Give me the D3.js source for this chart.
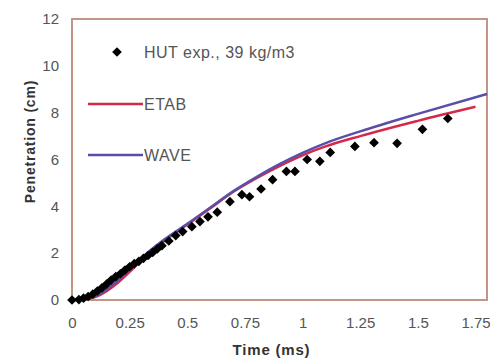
<!DOCTYPE html>
<html>
<head>
<meta charset="utf-8">
<script src="https://cdn.jsdelivr.net/npm/d3@7"></script>
<style>
  body { margin: 0; background: #fff; }
  text { font-family: "Liberation Sans", Arial, sans-serif; }
</style>
</head>
<body>
<div id="chart"></div>
<script>
// Experimental points (time in ms, penetration in cm)
var expTime = [0, 0.03, 0.05, 0.07, 0.09, 0.11, 0.13, 0.15, 0.17, 0.19, 0.21, 0.23, 0.25, 0.27, 0.29,
    0.31, 0.33, 0.35, 0.37, 0.39, 0.42, 0.45, 0.48, 0.52, 0.555, 0.59, 0.63, 0.685, 0.737,
    0.77, 0.82, 0.87, 0.93, 0.967, 1.02, 1.075, 1.12, 1.227, 1.31, 1.41, 1.52, 1.63];
var expPen = [0, 0.02, 0.08, 0.15, 0.25, 0.38, 0.52, 0.68, 0.85, 1.0, 1.12, 1.28, 1.42, 1.55, 1.65,
    1.78, 1.9, 2.03, 2.18, 2.32, 2.52, 2.75, 2.92, 3.13, 3.35, 3.55, 3.75, 4.2, 4.5,
    4.41, 4.74, 5.14, 5.49, 5.49, 6.0, 5.92, 6.3, 6.56, 6.72, 6.69, 7.29, 7.75];

// Simulation curves
var etabTime = [0, 0.05, 0.1, 0.15, 0.2, 0.25, 0.3, 0.4, 0.5, 0.6, 0.7, 0.8, 0.9, 1.0, 1.1, 1.25, 1.5, 1.75];
var etabPen = [0, 0.02, 0.12, 0.38, 0.75, 1.2, 1.68, 2.52, 3.22, 3.92, 4.62, 5.2, 5.72, 6.18, 6.56, 7.0, 7.65, 8.25];
var waveTime = [0, 0.05, 0.1, 0.15, 0.2, 0.25, 0.3, 0.4, 0.5, 0.6, 0.7, 0.8, 0.9, 1.0, 1.1, 1.25, 1.5, 1.8];
var wavePen = [0, 0.03, 0.16, 0.45, 0.85, 1.3, 1.78, 2.58, 3.25, 3.95, 4.65, 5.25, 5.8, 6.28, 6.7, 7.2, 7.95, 8.8];

var xTicks = [0, 0.25, 0.5, 0.75, 1, 1.25, 1.5, 1.75];
var yTicks = [0, 2, 4, 6, 8, 10, 12];

var width = 504, height = 360;
var margin = { top: 19, right: 17, bottom: 60, left: 72 };
var w = width - margin.left - margin.right;
var h = height - margin.top - margin.bottom;

var svg = d3.select("#chart").append("svg")
    .attr("width", width)
    .attr("height", height);

var g = svg.append("g")
    .attr("transform", "translate(" + margin.left + "," + margin.top + ")");

var x = d3.scaleLinear().domain([0, 1.8]).range([0, w]);
var y = d3.scaleLinear().domain([0, 12]).range([h, 0]);

// Axes (no tick marks, just labels)
var xAxis = g.append("g")
    .attr("transform", "translate(0," + h + ")")
    .call(d3.axisBottom(x).tickValues(xTicks).tickSize(0).tickPadding(17)
        .tickFormat(function (d) { return String(d); }));
var yAxis = g.append("g")
    .call(d3.axisLeft(y).tickValues(yTicks).tickSize(0).tickPadding(13));
[xAxis, yAxis].forEach(function (a) {
    a.select(".domain").remove();
    a.selectAll("text")
        .style("font-family", "'Liberation Sans', Arial, sans-serif")
        .style("font-size", "15px")
        .attr("fill", "#555");
});

// Frame
g.append("rect")
    .attr("width", w)
    .attr("height", h)
    .attr("fill", "none")
    .attr("stroke", "#c49484")
    .attr("stroke-width", 2);

// Axis titles
g.append("text")
    .attr("x", w / 2 - 8)
    .attr("y", h + 55)
    .attr("text-anchor", "middle")
    .style("font-size", "15px")
    .style("font-weight", "bold")
    .style("letter-spacing", "0.8px")
    .attr("fill", "#333")
    .text("Time (ms)");

g.append("text")
    .attr("transform", "rotate(-90)")
    .attr("x", -(h / 2) + 18)
    .attr("y", -margin.left + 35)
    .attr("text-anchor", "middle")
    .style("font-size", "14px")
    .style("font-weight", "bold")
    .style("letter-spacing", "0.8px")
    .attr("fill", "#333")
    .text("Penetration (cm)");

// Lines
var line = function (xs, ys) {
    return d3.line()
        .x(function (d, i) { return x(xs[i]); })
        .y(function (d, i) { return y(ys[i]); })
        .curve(d3.curveMonotoneX)(xs);
};

g.append("path")
    .attr("d", line(etabTime, etabPen))
    .attr("fill", "none")
    .attr("stroke", "#d42a4a")
    .attr("stroke-width", 2.5);

g.append("path")
    .attr("d", line(waveTime, wavePen))
    .attr("fill", "none")
    .attr("stroke", "#5a4fa8")
    .attr("stroke-width", 2.5);

// Experimental diamonds
var diamond = d3.symbol().type(d3.symbolDiamond2).size(60);
g.selectAll(".pt")
    .data(expTime)
    .enter().append("path")
    .attr("class", "pt")
    .attr("transform", function (d, i) { return "translate(" + x(d) + "," + y(expPen[i]) + ")"; })
    .attr("d", diamond)
    .attr("fill", "#000");

// Legend
var lg = g.append("g");
lg.append("path")
    .attr("transform", "translate(" + (117 - margin.left) + "," + (52 - margin.top) + ")")
    .attr("d", diamond)
    .attr("fill", "#000");
lg.append("text")
    .attr("x", 144 - margin.left)
    .attr("y", 58 - margin.top)
    .style("font-size", "16px")
    .style("letter-spacing", "0.5px")
    .attr("fill", "#555")
    .text("HUT exp., 39 kg/m3");

var legendLines = [
    { name: "ETAB", color: "#d42a4a", yPos: 104 },
    { name: "WAVE", color: "#5a4fa8", yPos: 155 }
];
legendLines.forEach(function (l) {
    lg.append("line")
        .attr("x1", 88 - margin.left).attr("x2", 143 - margin.left)
        .attr("y1", l.yPos - margin.top).attr("y2", l.yPos - margin.top)
        .attr("stroke", l.color)
        .attr("stroke-width", 2.5);
    lg.append("text")
        .attr("x", 144 - margin.left)
        .attr("y", l.yPos - margin.top + 6)
        .style("font-size", "16px")
        .style("letter-spacing", "0.5px")
        .attr("fill", "#555")
        .text(l.name);
});
</script>
</body>
</html>
